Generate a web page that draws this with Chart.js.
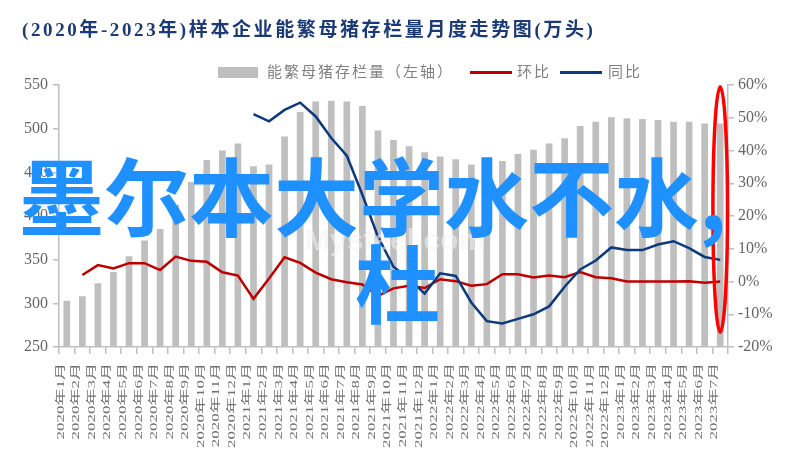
<!DOCTYPE html>
<html>
<head>
<meta charset="utf-8">
<script src="https://cdn.jsdelivr.net/npm/chart.js@4"></script>
<style>
  html, body { margin: 0; padding: 0; background: #fff; }
  #wrap { position: relative; width: 796px; height: 461px; overflow: hidden; }
  #c { position: absolute; left: 0; top: 0; }
  .title {
    position: absolute; left: 22px; top: 19px; white-space: nowrap;
    font: bold 19px/22px "Liberation Serif", "Noto Sans CJK SC", serif;
    letter-spacing: 2.6px; color: #1b3a78;
  }
  .lg-text {
    position: absolute; top: 62px; white-space: nowrap;
    font: 15px/20px "Liberation Serif", "Noto Sans CJK SC", serif;
    letter-spacing: 2px; color: #808080;
  }
  .lg-box { position: absolute; left: 218px; top: 67px; width: 40px; height: 11px; background: #BFBFBF; }
  .lg-line { position: absolute; top: 71px; width: 42px; height: 3px; }
  .mark {
    position: absolute; white-space: nowrap;
    font: bold 30px/30px "Liberation Sans", Arial, sans-serif;
    color: rgba(242, 242, 242, 0.55);
  }
  .note {
    position: absolute; white-space: nowrap;
    font: bold 85px/85px "Noto Sans CJK SC", sans-serif;
    color: #1E90FF;
  }
</style>
</head>
<body>
<div id="wrap">
  <canvas id="c" width="796" height="461"></canvas>
  <div class="title">(2020年-2023年)样本企业能繁母猪存栏量月度走势图(万头)</div>
  <div class="lg-box"></div>
  <div class="lg-text" style="left:267px">能繁母猪存栏量（左轴）</div>
  <div class="lg-line" style="left:470px;background:#C00000"></div>
  <div class="lg-text" style="left:517px">环比</div>
  <div class="lg-line" style="left:560px;background:#0B3A7E"></div>
  <div class="lg-text" style="left:608px">同比</div>
  <div class="mark" style="left:305px;top:225px">Mysteel.com</div>
  <div class="note" style="left:19px;top:150px">墨尔本大学水不水,</div>
  <div class="note" style="left:355px;top:237px">杜</div>
</div>
<script>
// Months on the category axis
const months = [
  '2020年1月','2020年2月','2020年3月','2020年4月','2020年5月','2020年6月',
  '2020年7月','2020年8月','2020年9月','2020年10月','2020年11月','2020年12月',
  '2021年1月','2021年2月','2021年3月','2021年4月','2021年5月','2021年6月',
  '2021年7月','2021年8月','2021年9月','2021年10月','2021年11月','2021年12月',
  '2022年1月','2022年2月','2022年3月','2022年4月','2022年5月','2022年6月',
  '2022年7月','2022年8月','2022年9月','2022年10月','2022年11月','2022年12月',
  '2023年1月','2023年2月','2023年3月','2023年4月','2023年5月','2023年6月',
  '2023年7月'
];

// Breeding sow inventory, 10k head (left axis)
const sowInventory = [
  303, 308, 323, 336, 354, 372, 385, 413, 439, 464, 475, 483,
  457, 459, 491, 519, 531, 532, 531, 526, 498, 487, 480, 473,
  468, 465, 459, 463, 463, 471, 476, 483, 489, 503, 508, 513,
  512, 511, 510, 508, 508, 506, 506
];

// Month-on-month change, % (right axis)
const momChange = [
  null, 2.0, 5.0, 4.0, 5.6, 5.6, 3.5, 7.6, 6.3, 6.0, 2.8, 1.8,
  -5.3, 0.9, 7.4, 5.7, 2.7, 0.7, -0.2, -0.9, -4.4, -2.1, -1.3, -2.0,
  0.7, 0.1, -1.3, -0.8, 2.2, 2.2, 1.2, 1.8, 1.3, 2.9, 1.3, 1.0,
  0.0, 0.0, 0.0, 0.0, 0.1, -0.4, 0.0
];

// Year-on-year change, % (right axis)
const yoyChange = [
  null, null, null, null, null, null, null, null, null, null, null, null,
  51.1, 48.9, 52.4, 54.6, 50.4, 43.8, 38.4, 26.5, 13.7, 4.5, 0.8, -3.7,
  2.5, 1.7, -6.4, -12.1, -12.8, -11.4, -10.0, -7.6, -1.6, 3.7, 6.4, 10.4,
  9.6, 9.6, 11.3, 12.3, 10.2, 7.5, 6.6
];

// Axis ranges: [min, max, step]
const leftAxis = [250, 550, 50];
const rightAxis = [-20, 60, 10];

// Highlight ring around the latest month, in right-axis units
const ringSpan = [59.5, -15.5];

const axisGray = '#BFBFBF';
const tickGray = '#666666';

// Rotated, narrowed month labels under each category
const monthLabels = {
  id: 'monthLabels',
  afterDraw(chart) {
    const xs = chart.scales.x;
    const ctx = chart.ctx;
    ctx.save();
    ctx.fillStyle = '#707070';
    ctx.font = '17px "Liberation Serif", "Noto Sans CJK SC", serif';
    ctx.textAlign = 'right';
    ctx.textBaseline = 'middle';
    chart.data.labels.forEach((lab, i) => {
      ctx.save();
      ctx.translate(xs.getPixelForValue(i) - 5.8, xs.top + 16);
      ctx.rotate(-Math.PI / 2);
      ctx.scale(1, 0.62);
      ctx.fillText(lab, 0, 0);
      ctx.restore();
    });
    ctx.restore();
  }
};

// Red ring marking the last month
const latestRing = {
  id: 'latestRing',
  afterDraw(chart) {
    const xs = chart.scales.x, ys = chart.scales.y1;
    const cx = xs.getPixelForValue(months.length - 1);
    const top = ys.getPixelForValue(ringSpan[0]);
    const bot = ys.getPixelForValue(ringSpan[1]);
    const ctx = chart.ctx;
    ctx.save();
    ctx.beginPath();
    ctx.ellipse(cx, (top + bot) / 2, 7.3, (bot - top) / 2, 0, 0, Math.PI * 2);
    ctx.strokeStyle = '#FF0000';
    ctx.lineWidth = 3.5;
    ctx.stroke();
    ctx.restore();
  }
};

new Chart(document.getElementById('c'), {
  type: 'bar',
  data: {
    labels: months,
    datasets: [
      {
        type: 'line', label: '同比', data: yoyChange, yAxisID: 'y1', order: 0,
        borderColor: '#0B3A7E', borderWidth: 2.5, pointRadius: 0, tension: 0,
        spanGaps: false
      },
      {
        type: 'line', label: '环比', data: momChange, yAxisID: 'y1', order: 1,
        borderColor: '#C00000', borderWidth: 2.5, pointRadius: 0, tension: 0,
        spanGaps: false
      },
      {
        type: 'bar', label: '能繁母猪存栏量（左轴）', data: sowInventory, yAxisID: 'y', order: 2,
        backgroundColor: '#BFBFBF', barPercentage: 0.43, categoryPercentage: 1.0
      }
    ]
  },
  options: {
    responsive: false,
    animation: false,
    devicePixelRatio: 1,
    layout: { padding: { top: 85, left: 0, right: 0, bottom: 0 } },
    plugins: { legend: { display: false }, title: { display: false }, tooltip: { enabled: false } },
    scales: {
      x: {
        offset: true,
        grid: { display: true, offset: true, drawOnChartArea: false, drawTicks: true, tickLength: 7, color: axisGray, lineWidth: 1.5 },
        border: { display: true, color: axisGray, width: 1.5 },
        ticks: { display: false },
        afterFit(s) { s.height = 114; }
      },
      y: {
        position: 'left',
        min: leftAxis[0], max: leftAxis[1],
        ticks: {
          stepSize: leftAxis[2], padding: 5, color: tickGray,
          font: { family: '"Liberation Serif", serif', size: 16 }
        },
        grid: { drawOnChartArea: false, drawTicks: true, tickLength: 6, color: axisGray, lineWidth: 1.5 },
        border: { display: true, color: axisGray, width: 1.5 },
        afterFit(s) { s.width = 59; }
      },
      y1: {
        position: 'right',
        min: rightAxis[0], max: rightAxis[1],
        ticks: {
          stepSize: rightAxis[2], padding: 4, color: tickGray,
          font: { family: '"Liberation Serif", serif', size: 16 },
          callback: v => v + '%'
        },
        grid: { drawOnChartArea: false, drawTicks: true, tickLength: 6, color: axisGray, lineWidth: 1.5 },
        border: { display: true, color: axisGray, width: 1.5 },
        afterFit(s) { s.width = 68; }
      }
    }
  },
  plugins: [monthLabels, latestRing]
});
</script>
</body>
</html>
